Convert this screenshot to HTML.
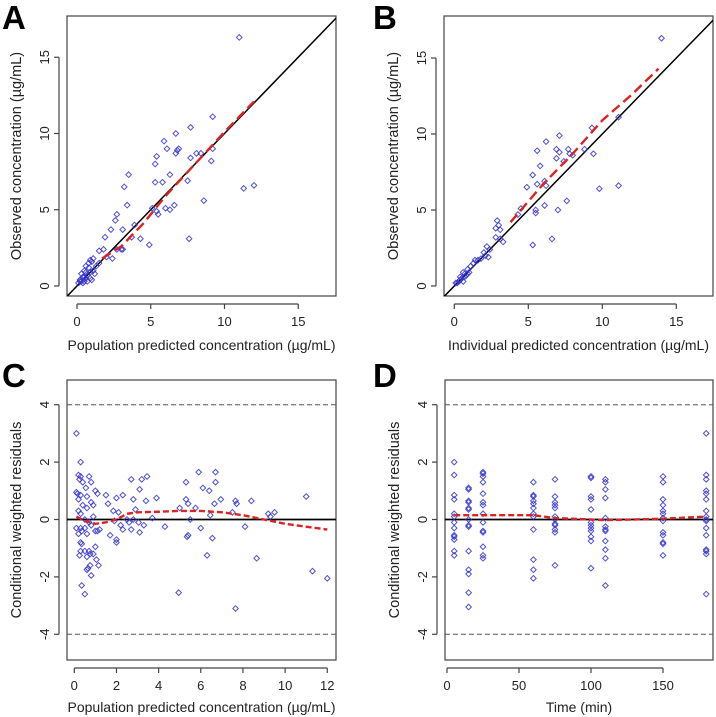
<!DOCTYPE html>
<html><head><meta charset="utf-8"><style>
html,body{margin:0;padding:0;background:#fff;}
svg{display:block;font-family:"Liberation Sans",Arial,sans-serif;}
</style></head><body>
<svg id="s" width="716" height="717" viewBox="0 0 716 717" xmlns="http://www.w3.org/2000/svg"></svg>
<script>
// Panel A data
const aPred=[11.0,9.2,7.7,6.7,5.9,6.1,6.8,6.9,6.7,5.4,7.7,8.1,8.4,9.2,9.1,5.3,3.5,6.3,3.2,5.3,5.8,7.5,11.3,12.0,3.4,8.6,6.0,6.3,6.6,5.4,5.5,2.7,2.6,2.3,3.1,3.9,1.9,4.3,7.6,4.9,1.8,2.7,3.0,3.1,1.5,2.0,2.4,1.1,1.0,0.8,0.9,0.6,0.5,0.3,0.2,0.4,0.6,0.7,0.9,1.1,1.2,0.3,0.5,0.1,0.2,0.7,0.9,1.0,0.4,0.6,1.5,1.3,0.8,0.5,3.7,5.1];
const aObs=[16.3,11.1,10.4,10.0,9.5,9.0,8.9,9.0,8.7,8.5,8.4,8.7,8.7,9.0,8.2,8.0,7.3,7.3,6.5,6.8,6.8,6.9,6.4,6.6,5.3,5.6,5.1,5.0,5.3,4.9,4.7,4.7,4.3,3.7,3.7,4.0,3.2,3.1,3.1,2.7,2.4,2.4,2.4,2.4,2.3,1.9,1.8,1.8,1.6,1.5,1.7,1.3,1.0,0.8,0.4,0.2,0.5,0.7,0.9,1.0,0.8,0.3,0.6,0.2,0.3,0.3,0.5,0.4,0.6,0.9,1.5,1.3,1.2,0.3,3.2,5.1];
const aFitX=[1.7,3,4.5,6,8,10,12];
const aFitY=[1.8,2.6,4.1,5.9,8,10.1,12.1];
// Panel B data
const bPred=[14.0,11.1,9.3,7.1,6.2,5.6,6.9,7.1,7.7,7.8,8.0,8.8,9.4,6.9,7.4,5.8,5.3,5.6,6.1,6.2,4.9,11.1,9.8,6.1,7.6,7.0,5.5,5.5,4.5,4.3,2.9,3.0,3.1,2.8,2.8,3.1,3.3,6.6,5.3,2.2,2.0,2.4,2.3,1.8,1.4,1.3,1.1,0.9,0.9,0.6,0.7,0.5,0.4,0.3,0.2,0.1,0.8,1.0,0.6,1.6,2.1,0.4,0.7];
const bObs=[16.3,11.1,10.4,9.9,9.5,8.9,9.0,8.8,9.0,8.7,8.6,9.0,8.7,8.4,8.2,7.9,7.3,6.7,6.9,6.6,6.5,6.6,6.4,5.3,5.6,5.0,4.8,5.0,5.1,4.7,4.3,4.0,3.7,3.8,3.2,3.1,2.9,3.1,2.7,2.6,2.2,2.4,1.9,1.8,1.7,1.5,1.3,1.1,0.8,0.9,0.6,0.5,0.4,0.3,0.2,0.2,0.7,0.9,0.3,1.7,2.0,0.6,0.8];
const bFitX=[3.8,6,8,10,12,13.8];
const bFitY=[4.2,6.7,8.7,10.9,12.6,14.3];
// Panel C data
const cPred=[0.1,0.3,0.2,0.3,0.25,0.4,0.7,0.8,0.55,0.1,0.15,0.3,0.6,1.0,1.1,0.2,0.8,0.9,0.4,0.6,0.2,0.3,0.9,0.5,0.7,0.1,0.3,0.35,0.5,0.6,0.2,1.1,1.2,1.0,0.8,0.3,0.35,0.3,0.5,0.7,0.75,0.9,1.0,0.25,0.6,1.05,0.75,1.15,0.65,0.6,0.8,0.35,0.5,1.5,1.6,1.85,2.0,2.3,2.1,2.7,3.1,3.2,3.45,3.4,2.8,2.9,3.9,3.7,2.5,2.6,2.8,3.05,2.2,2.3,2.7,3.3,1.7,2.0,2.0,3.1,4.3,1.9,5.3,5.9,6.1,6.4,6.7,6.7,5.3,5.4,5.0,5.75,6.65,6.95,6.45,5.5,6.0,5.4,5.35,6.55,6.3,4.95,7.65,7.7,7.5,8.4,8.1,8.65,7.65,9.2,9.3,9.5,11.0,11.3,12.0];
const cRes=[3.0,2.0,1.55,1.5,1.4,1.3,1.5,1.3,1.1,0.95,0.9,0.85,0.8,1.0,0.9,0.7,0.6,0.5,0.5,0.4,0.3,0.2,0.1,0.0,-0.1,-0.3,-0.3,-0.4,-0.3,-0.5,-0.5,-0.4,-0.35,-0.4,-0.2,-0.8,-0.85,-1.1,-1.1,-1.1,-1.2,-1.2,-0.95,-1.25,-1.3,-1.4,-1.6,-1.6,-1.7,-1.75,-1.95,-2.3,-2.6,0.85,0.55,0.3,0.75,0.85,0.25,1.4,1.05,1.4,1.5,0.65,0.7,0.35,0.75,0.05,0.0,-0.1,0.0,-0.1,-0.2,-0.35,-0.35,-0.2,-0.55,-0.7,-0.8,-0.45,-0.25,-0.05,1.3,1.65,1.1,1.0,1.65,1.3,0.7,0.55,0.4,0.4,0.55,0.7,0.15,0.0,-0.3,-0.55,-0.6,-0.65,-1.25,-2.55,0.65,0.55,0.25,0.65,-0.25,-1.35,-3.1,0.2,0.1,0.25,0.8,-1.8,-2.05];
const cFitX=[0.1,0.5,1,1.5,2,2.5,3,4,5,6,7,8,9,10,11,12];
const cFitY=[0.1,-0.05,-0.15,-0.1,0.0,0.2,0.25,0.27,0.3,0.3,0.25,0.15,0.0,-0.15,-0.25,-0.35];
// Panel D data
const dTimes=[5,15,25,60,75,100,110,150,180];
const dRes=[
[2.0,1.55,0.85,0.7,0.2,0.1,-0.1,-0.3,-0.55,-0.6,-0.7,-1.1,-1.25],
[1.1,1.05,0.65,0.6,0.4,0.35,0.0,-0.2,-0.25,-1.1,-1.75,-1.9,-2.55,-3.05],
[1.65,1.6,1.5,1.3,0.9,0.6,0.5,0.2,-0.1,-0.4,-0.45,-0.95,-1.25,-1.35],
[1.3,0.85,0.8,0.65,0.55,0.4,0.2,0.1,-0.35,-1.4,-1.75,-2.05],
[1.4,0.8,0.6,0.5,0.4,0.1,0.0,-0.15,-0.2,-0.35,-0.45,-1.6],
[1.5,1.45,0.8,0.7,0.35,-0.1,-0.2,-0.3,-0.4,-0.6,-0.75,-1.7],
[1.4,1.3,1.05,0.75,0.05,-0.25,-0.35,-0.4,-0.75,-1.05,-1.35,-2.3],
[1.5,1.3,0.7,0.5,0.3,0.2,0.05,-0.05,-0.45,-0.55,-0.8,-0.85,-1.25],
[3.0,1.55,1.4,1.0,0.9,0.7,0.3,0.1,0.0,-0.05,-0.3,-0.55,-1.05,-1.1,-1.2,-2.6]];
const dFitX=[5,30,60,75,100,110,130,150,180];
const dFitY=[0.15,0.15,0.15,0.05,0.0,-0.02,0.0,0.03,0.1];
const ticksAB=[0,5,10,15];
const ticksCX=[0,2,4,6,8,10,12];
const ticksDX=[0,50,100,150];
const ticksRes=[-4,-2,0,2,4];

const S=document.getElementById('s');
const NS='http://www.w3.org/2000/svg';
function mk(tag,attrs,parent){const e=document.createElementNS(NS,tag);for(const k in attrs)e.setAttribute(k,attrs[k]);(parent||S).appendChild(e);return e;}

function panel(cfg){
  const g=mk('g',{});
  
  
  const X=v=>cfg.x0+(v-cfg.xa)*cfg.kx;
  const Y=v=>cfg.y0-(v-cfg.ya)*cfg.ky;
  const clipId='clip'+cfg.letter;
  const cp=mk('clipPath',{id:clipId},g);
  mk('rect',{x:cfg.bx,y:cfg.by,width:cfg.bw,height:cfg.bh},cp);
  const lt=mk('text',{x:cfg.lx,y:cfg.ly,'font-size':33,'font-weight':'bold',fill:'#000'},g);
  lt.textContent=cfg.letter;
  
  
  const box=mk('rect',{x:cfg.bx,y:cfg.by,width:cfg.bw,height:cfg.bh,fill:'none',stroke:'#444','stroke-width':1.2},g);
  
  
  const xt=cfg.xticks, axY=cfg.by+cfg.bh+8;
  const xa=mk('g',{},g);
  
  
  mk('line',{x1:X(xt[0]),x2:X(xt[xt.length-1]),y1:axY,y2:axY,stroke:'#444','stroke-width':1.2},xa);
  xt.forEach(t=>{mk('line',{x1:X(t),x2:X(t),y1:axY,y2:axY+5,stroke:'#444','stroke-width':1.2},xa);
    const tx=mk('text',{x:X(t),y:axY+22,'font-size':13,'text-anchor':'middle',fill:'#222'},xa);tx.textContent=t;
    
    });
  const xl=mk('text',{x:cfg.bx+cfg.bw/2,y:axY+cfg.xlOff,'font-size':14,'text-anchor':'middle',fill:'#222'},g);xl.textContent=cfg.xlabel;
  
  
  const yt=cfg.yticks, axX=cfg.bx-8;
  const ya=mk('g',{},g);
  
  
  mk('line',{x1:axX,x2:axX,y1:Y(yt[0]),y2:Y(yt[yt.length-1]),stroke:'#444','stroke-width':1.2},ya);
  yt.forEach(t=>{mk('line',{x1:axX,x2:axX-5,y1:Y(t),y2:Y(t),stroke:'#444','stroke-width':1.2},ya);
    const tx=mk('text',{x:0,y:0,'font-size':13,'text-anchor':'middle',fill:'#222',transform:`translate(${axX-10},${Y(t)}) rotate(-90)`},ya);tx.textContent=t;
    
    });
  const yl=mk('text',{x:0,y:0,'font-size':14.5,'text-anchor':'middle',fill:'#222',transform:`translate(${cfg.bx-46},${cfg.by+cfg.bh/2}) rotate(-90)`},g);yl.textContent=cfg.ylabel;
  
  
  const inner=mk('g',{'clip-path':`url(#${clipId})`},g);
  if(cfg.diag){const d=mk('line',{x1:X(-2),y1:Y(-2),x2:X(20),y2:Y(20),stroke:'#000','stroke-width':1.5},inner);
    
    }
  if(cfg.res){
    const z=mk('line',{x1:cfg.bx,x2:cfg.bx+cfg.bw,y1:Y(0),y2:Y(0),stroke:'#000','stroke-width':1.8},inner);
    
    
    [4,-4].forEach(v=>{const l=mk('line',{x1:cfg.bx,x2:cfg.bx+cfg.bw,y1:Y(v),y2:Y(v),stroke:'#555','stroke-dasharray':'5,3'},inner);
      
      });
  }
  cfg.px.forEach((v,i)=>{const cx=X(v),cy=Y(cfg.py[i]),r=2.8;
    const p=mk('path',{d:`M${cx},${cy-r}L${cx+r},${cy}L${cx},${cy+r}L${cx-r},${cy}Z`,fill:'none',stroke:'#3333cc','stroke-width':1,opacity:0.85},inner);
    
    });
  const fit=mk('polyline',{points:cfg.fx.map((v,i)=>X(v)+','+Y(cfg.fy[i])).join(' '),fill:'none',stroke:'#dd2222','stroke-width':2.4,'stroke-dasharray':cfg.dash},inner);
  
  
}
const unit='(µg/mL)';
panel({name:'panel-a',letter:'A',lx:2,ly:29,bx:67,by:16,bw:269,bh:280,x0:77,xa:0,kx:14.75,y0:286,ya:0,ky:15.25,
  xticks:ticksAB,yticks:ticksAB,xlabel:'Population predicted concentration '+unit,ylabel:'Observed concentration '+unit,xlOff:46,
  px:aPred,py:aObs,fx:aFitX,fy:aFitY,diag:true,dash:'10,5'});
panel({name:'panel-b',letter:'B',lx:373,ly:29,bx:444,by:16,bw:269,bh:280,x0:454.3,xa:0,kx:14.8,y0:286,ya:0,ky:15.2,
  xticks:ticksAB,yticks:ticksAB,xlabel:'Individual predicted concentration '+unit,ylabel:'Observed concentration '+unit,xlOff:46,
  px:bPred,py:bObs,fx:bFitX,fy:bFitY,diag:true,dash:'10,5'});
panel({name:'panel-c',letter:'C',lx:2,ly:387,bx:67,by:380,bw:269,bh:280,x0:74.3,xa:0,kx:21.08,y0:519.5,ya:0,ky:28.7,
  xticks:ticksCX,yticks:ticksRes,xlabel:'Population predicted concentration '+unit,ylabel:'Conditional weighted residuals',xlOff:44,
  px:cPred,py:cRes,fx:cFitX,fy:cFitY,res:true,dash:'6,3'});
const dX=[],dY=[];
dTimes.forEach((t,i)=>dRes[i].forEach(v=>{dX.push(t);dY.push(v);}));
panel({name:'panel-d',letter:'D',lx:373,ly:387,bx:445,by:380,bw:268,bh:280,x0:447,xa:0,kx:1.44,y0:519.5,ya:0,ky:28.7,
  xticks:ticksDX,yticks:ticksRes,xlabel:'Time (min)',ylabel:'Conditional weighted residuals',xlOff:44,
  px:dX,py:dY,fx:dFitX,fy:dFitY,res:true,dash:'6,3'});
</script>
</body></html>
